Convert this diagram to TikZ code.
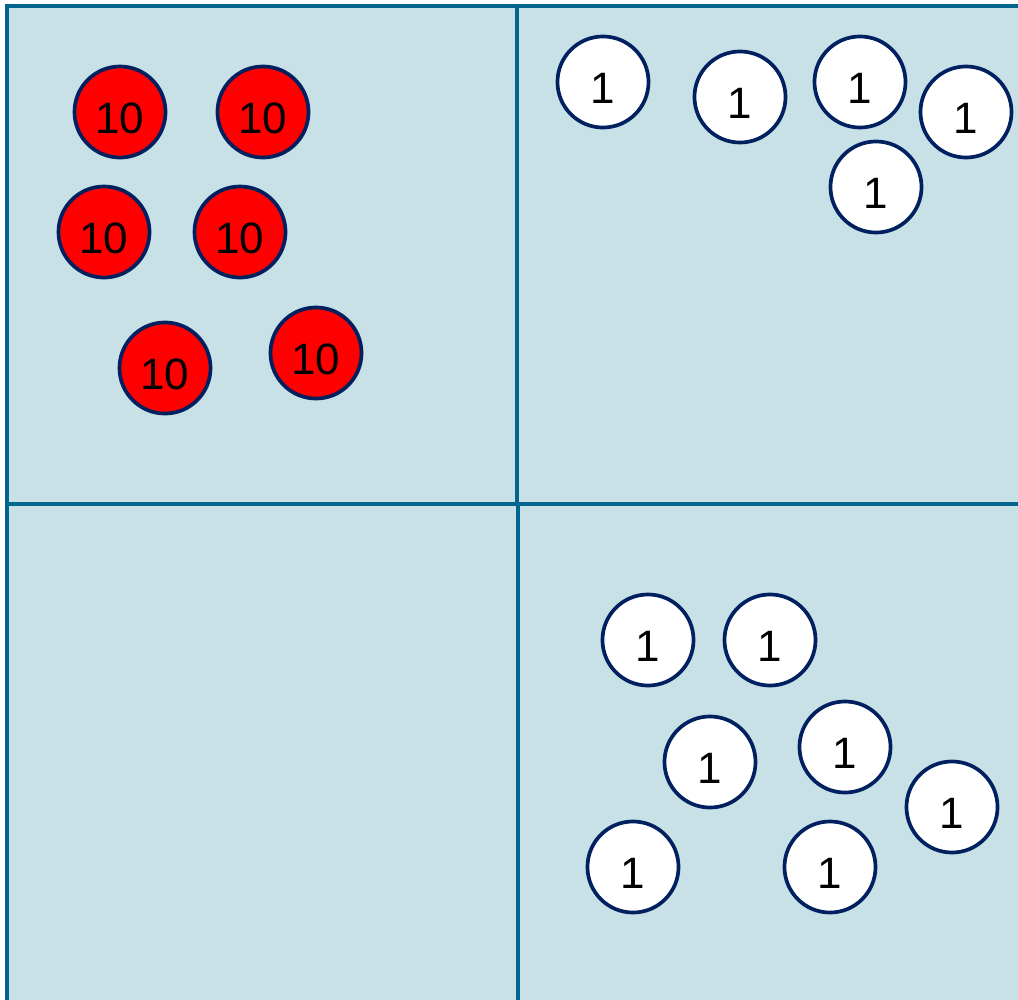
\documentclass[tikz,border=0pt]{standalone}
\usepackage{fontspec}
\setmainfont{Liberation Sans}
\definecolor{boxfill}{HTML}{C8E1E7}
\definecolor{boxline}{HTML}{00658F}
\definecolor{coinline}{HTML}{002060}
\begin{document}
\begin{tikzpicture}[
			x=0.01cm, y=-0.01cm,
			grid line/.style={boxline, line width=0.9pt},
			coin/.style={circle, draw=coinline, line width=1.05pt, minimum size=0.91cm, inner sep=0pt,
				text height=12pt, text depth=0pt, font=\fontsize{12.5}{14}\selectfont},
			ten coin/.style={coin, fill=red},
			one coin/.style={coin, fill=white}
			]
			\useasboundingbox (0,0) rectangle (1018,1000);
			\clip (0,0) rectangle (1018,1000);
			% place value board
			\draw[grid line, fill=boxfill] (7,6) rectangle (1040,1040);
			\draw[grid line] (517,6) -- (517,504);
			\draw[grid line] (518,504) -- (518,1040);
			\draw[grid line] (7,504) -- (1040,504);
			% tens
			\foreach \x/\y [count=\i] in {120/112, 263/112, 104/232, 240/232, 165/368, 316/353}
				\node[ten coin] (ten\i) at (\x,\y) {10};
			% ones at the top
			\foreach \x/\y [count=\i] in {603/82, 740/97, 860/82, 966/112, 876/187}
				\node[one coin] (topone\i) at (\x,\y) {1};
			% ones at the bottom
			\foreach \x/\y [count=\i] in {648/640, 770/640, 710/762, 845/747, 952/807, 633/867, 830/867}
				\node[one coin] (lowone\i) at (\x,\y) {1};
		\end{tikzpicture}
\end{document}
